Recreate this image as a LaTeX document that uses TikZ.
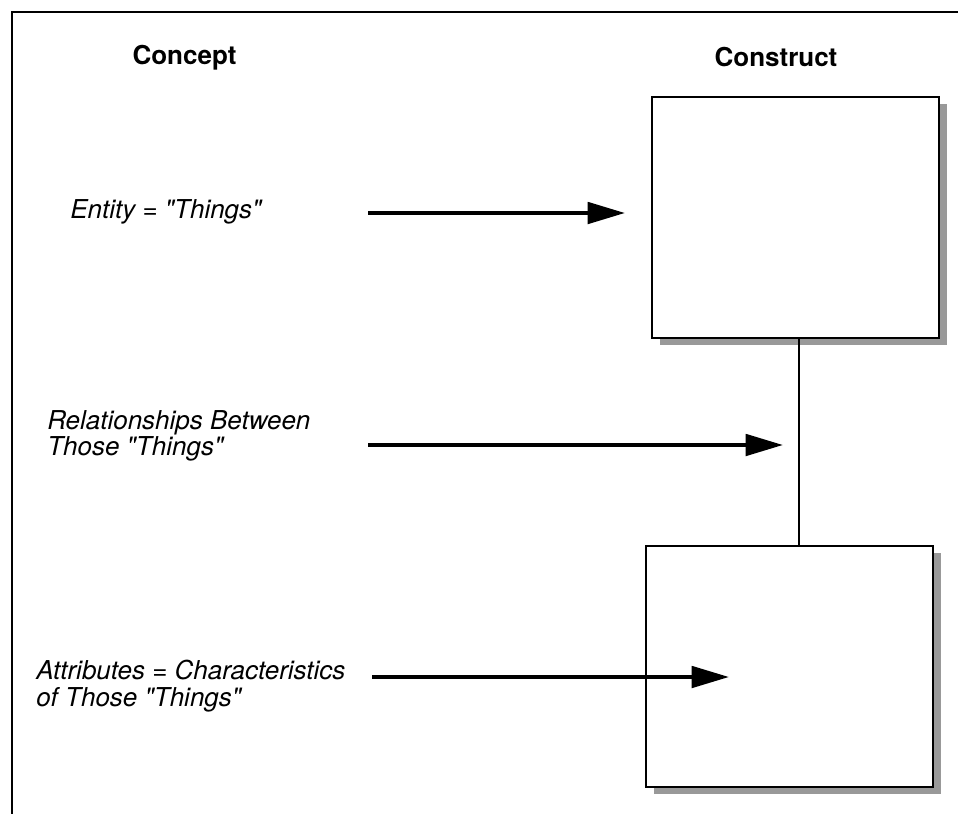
\documentclass[tikz,border=0pt]{standalone}
\usepackage{fontspec}
\setmainfont{TeX Gyre Heros}[Ligatures=TeXOff]
\usetikzlibrary{arrows.meta,shadows}

\begin{document}
\begin{tikzpicture}[x=0.75pt,y=-0.75pt,
    box/.style={draw,line width=1.5pt,fill=white,minimum width=215pt,minimum height=181pt,inner sep=0pt,outer sep=0pt,
      drop shadow={shadow xshift=6pt,shadow yshift=-5pt,fill=black!40,opacity=1}},
    lbl/.style={font=\fontsize{19.5pt}{20pt}\selectfont\itshape,inner sep=0pt,align=left},
    head/.style={font=\fontsize{19.5pt}{20pt}\selectfont\bfseries,inner sep=0pt},
    arr/.style={line width=3pt,-{Triangle[length=28pt,width=16pt]}}]
        \useasboundingbox (0,0) rectangle (958,814);
        % frame
        \draw[line width=2pt] (12,814) -- (12,12) -- (958,12);
        % headings
        \node[head,anchor=base] (concept)   at (184.5,64) {Concept};
        \node[head,anchor=base] (construct) at (776,66)   {Construct};
        % constructs
        \node[box] (entity) at (795.5,217.5) {};
        \node[box] (attrib) at (789.5,666.5) {};
        \coordinate (rel) at (799,445);
        \draw[line width=1.1pt] (rel |- entity.south) -- (rel |- attrib.north);
        % concepts
        \node[lbl,anchor=base west] (c-ent) at (70,218) {Entity = "Things"};
        \node[lbl,anchor=west] (c-rel) at (47,436) {Relationships Between\\Those "Things"};
        \node[lbl,anchor=west] (c-att) at (36,686) {Attributes = Characteristics\\of Those "Things"};
        \coordinate (ent-from) at (368,213);
        \coordinate (ent-to)   at (625,213);
        \coordinate (rel-from) at (368,445);
        \coordinate (rel-to)   at (783,445);
        \coordinate (att-from) at (372,677);
        \coordinate (att-to)   at (729,677);
        \draw[arr] (ent-from) -- (ent-to);
        \draw[arr] (rel-from) -- (rel-to);
        \draw[arr] (att-from) -- (att-to);
\end{tikzpicture}
\end{document}
